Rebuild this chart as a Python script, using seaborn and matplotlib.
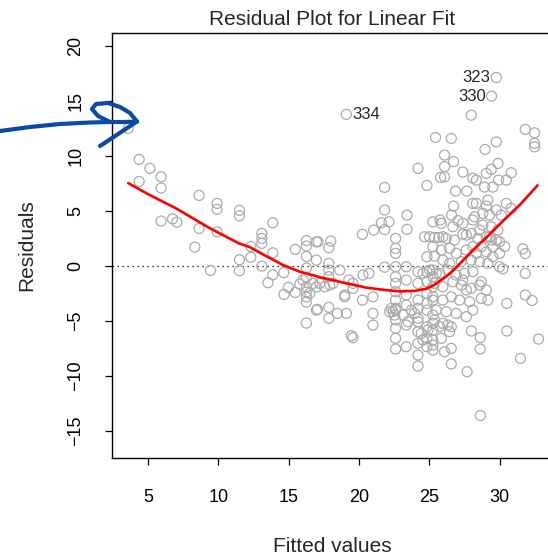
import seaborn as sns
import numpy as np
import pandas as pd
import matplotlib.pyplot as plt

# fitted values / residuals
# left, sparse part
fitted_a = [3.60, 4.38, 5.14, 4.38, 5.94, 5.94, 8.64, 9.92, 9.92, 11.51, 11.51, 5.94, 6.75, 7.06, 8.64,
            9.92, 8.34, 9.45, 11.51, 11.51, 12.32, 12.32, 13.10, 13.10, 13.10, 13.88, 13.88, 13.10, 13.88,
            13.54, 14.66, 14.68, 14.99, 15.48, 15.48]
resid_a = [12.47, 9.65, 8.84, 7.65, 8.07, 7.05, 6.38, 5.65, 5.11, 5.02, 4.53, 4.05, 4.25, 3.95, 3.38,
           3.07, 1.68, -0.44, 0.53, -0.47, 0.75, 1.73, 2.93, 2.47, 2.02, 3.89, 1.16, -0.05, -0.84,
           -1.56, -0.65, -2.62, -1.98, 1.47, -2.45]

# fitted 15 - 20
fitted_b = [16.27, 16.27, 16.27, 16.27, 16.27, 16.27, 16.27, 16.27, 16.27, 16.27,
            15.80, 16.03, 16.51, 16.98, 16.98, 16.98, 16.98, 16.74, 17.22, 17.57, 17.93, 18.16, 18.00,
            17.86, 17.86, 17.86, 17.86, 18.64, 19.28, 18.99, 17.05, 17.86, 17.86, 18.47, 19.11, 19.47, 19.58]
resid_b = [2.27, 1.77, 0.82, -0.23, -1.05, -1.95, -2.41, -2.86, -3.32, -5.23,
           -1.68, -1.32, -2.53, 2.16, 0.50, -1.95, -4.05, -1.62, -1.62, -1.93, -1.77, -1.62, 2.23,
           1.62, 0.20, -0.41, -1.02, -0.41, -1.32, -2.68, -3.98, -3.80, -4.80, -4.35, -4.35, -6.38, -6.56]

# low outliers and right edge
fitted_c = [22.61, 22.61, 23.37, 24.20, 24.20, 26.57, 27.69, 28.63, 31.49, 32.77, 30.52, 28.00, 28.63,
            28.63, 30.52, 31.83, 32.31, 31.83, 30.23, 31.66, 31.83, 30.36]
resid_c = [-6.62, -7.59, -7.38, -8.14, -9.14, -8.95, -9.65, -13.64, -8.44, -6.68, -5.95, -5.95, -6.55,
           -7.59, -3.44, -2.68, -3.18, -0.71, -0.30, 1.52, 1.09, 1.73]

# upper right
fitted_d = [27.99, 25.45, 26.57, 29.77, 28.97, 31.83, 32.49, 32.49, 32.49, 26.09, 26.73, 26.09, 25.81,
            26.09, 24.20, 27.39, 24.84, 21.83, 26.87, 27.68, 28.10, 28.35, 29.06, 29.41, 29.89, 30.83,
            30.48, 29.93, 29.52, 28.93, 26.73, 26.59, 27.04, 25.77, 28.10, 29.06, 29.17, 28.35, 29.77,
            30.12, 30.48, 30.83, 28.22, 28.10, 28.81, 29.29, 21.83, 23.42, 21.60, 22.14, 21.83, 21.05,
            20.25, 23.42, 22.61, 22.61, 22.61, 24.67, 25.03, 25.38, 25.69, 24.84, 25.38, 26.21, 26.80,
            27.39, 27.99, 28.58, 29.06, 29.41, 30.00, 28.10, 28.70, 29.52, 17.10]
resid_d = [13.68, 11.65, 11.56, 11.25, 10.56, 12.38, 12.07, 11.11, 10.80, 10.05, 9.45, 9.00, 8.02,
           8.07, 8.84, 8.50, 7.29, 7.11, 6.77, 6.77, 7.95, 7.77, 8.38, 8.75, 9.29, 8.44,
           7.77, 7.77, 7.14, 7.14, 5.41, 4.59, 4.09, 4.14, 5.65, 5.41, 5.95, 5.65, 5.05,
           4.59, 5.65, 5.20, 4.44, 4.14, 4.75, 4.59, 5.05, 4.59, 3.89, 3.98, 3.27, 3.23,
           2.84, 3.29, 2.47, 1.56, 1.11, 2.62, 2.62, 2.56, 2.56, 0.80, 0.86, 2.47, 2.32,
           2.86, 2.93, 3.23, 2.62, 2.32, 2.16, 1.71, 1.71, 1.71, 2.16]

# middle cluster, fitted 19 - 25.5
fitted_e = [19.58, 19.58, 18.99, 20.29, 20.72, 20.25, 21.00, 21.00, 21.00, 21.83,
            22.61, 22.61, 22.61, 22.61, 22.61, 22.61, 22.61, 22.61, 22.61, 22.42, 22.54,
            23.37, 23.37, 23.37, 23.37, 23.37,
            24.20, 24.20, 24.20, 24.20, 24.20, 24.20, 24.20, 24.20,
            24.84, 24.84, 24.84, 24.84, 24.84, 24.84, 24.84, 24.84,
            25.26, 25.26, 25.26, 25.26, 25.26, 25.26, 25.26,
            24.55, 25.03, 25.50, 23.73, 23.96, 24.44, 24.55, 24.91, 22.19, 22.31, 23.13, 23.49]
resid_e = [-1.62, -2.07, -2.84, -0.86, -0.71, -3.14, -2.84, -4.35, -5.41, -0.15,
           -0.11, -1.02, -1.62, -2.38, -3.14, -3.89, -4.05, -4.95, -5.71, -4.20, -4.50,
           -0.11, -1.32, -2.68, -3.59, -5.41,
           -0.56, -1.62, -3.14, -3.89, -4.80, -5.11, -6.02, -7.07,
           -0.56, -1.47, -2.53, -3.44, -4.05, -5.56, -6.62, -7.38,
           -1.02, -1.93, -3.14, -4.50, -5.86, -6.77, -7.68,
           -0.71, -0.41, -0.71, -4.05, -4.35, -6.16, -6.77, -5.86, -4.20, -3.89, -4.50, -5.11]

# dense cluster, fitted 25 - 30
fitted_f = [25.26, 25.86, 26.68, 27.39, 28.81, 29.41, 29.88,
            25.97, 27.64, 28.46, 29.29, 29.77,
            25.26, 25.86, 26.45, 26.92, 27.64, 28.35, 29.06, 29.52, 30.00,
            25.97, 26.45, 27.28, 27.99, 28.58, 29.17, 30.00,
            25.26, 25.74, 26.33, 26.92, 27.51, 28.10,
            25.38, 25.97, 26.68, 27.28, 27.99, 28.58,
            25.26, 25.97, 26.57, 27.16, 27.87, 28.70, 29.17,
            25.50, 26.21, 26.92, 27.64, 28.10,
            25.38, 25.97, 26.57,
            25.26, 25.74, 26.33, 26.45, 25.86, 25.26, 26.09, 26.57,
            28.70, 29.06, 27.39, 27.64]
resid_f = [3.98, 3.84, 3.53, 3.84, 3.68, 3.53, 3.23,
           2.62, 2.77, 2.47, 2.62, 2.32,
           1.71, 1.41, 1.56, 1.11, 1.41, 1.11, 1.25, 0.80, 1.11,
           0.50, 0.20, 0.35, 0.50, 0.35, 0.20, -0.11,
           -0.41, -0.71, -0.41, -0.86, -0.71, -0.56,
           -1.62, -1.93, -1.47, -1.77, -2.07, -1.77,
           -2.84, -3.14, -2.84, -3.14, -3.29, -2.99, -3.14,
           -4.05, -4.20, -4.35, -4.65, -4.05,
           -4.95, -5.25, -5.56,
           -5.25, -5.56, -5.41, -6.02, -6.62, -7.23, -7.84, -7.53,
           -1.47, -2.23, -1.32, -2.23]

# labelled observations
label_ids = ["334", "323", "330"]
label_fitted = [19.11, 29.77, 29.43]
label_resid = [13.75, 17.10, 15.41]

# red smoother
smooth_x = [3.6, 5.0, 7.0, 9.4, 11.5, 12.2, 13.5, 14.6, 15.8, 17.2, 18.2, 19.5, 20.5, 21.7, 22.9,
            24.0, 24.8, 25.3, 25.7, 26.2, 26.6, 27.05, 28.1, 29.1, 30.2, 31.5, 32.7]
smooth_y = [7.5, 6.5, 5.2, 3.4, 2.0, 1.7, 0.8, 0.05, -0.56, -1.05, -1.35, -1.72, -2.0, -2.2, -2.35,
            -2.3, -2.1, -1.8, -1.45, -1.0, -0.55, 0.0, 1.4, 2.6, 4.0, 5.6, 7.3]

fitted = fitted_a + fitted_b + fitted_c + fitted_d + fitted_e + fitted_f + label_fitted
resid = resid_a + resid_b + resid_c + resid_d + resid_e + resid_f + label_resid
data = pd.DataFrame({'fitted': fitted, 'resid': resid})
smooth = pd.DataFrame({'x': smooth_x, 'y': smooth_y})

sns.set_style('ticks')
plt.rcParams['font.family'] = ['Liberation Sans', 'DejaVu Sans']

fig = plt.figure(figsize=(5.48, 5.58), dpi=100)
ax = fig.add_axes([112 / 548, 100 / 558, 441 / 548, 425 / 558])

sns.scatterplot(data=data, x='fitted', y='resid', ax=ax, marker='o', s=52,
                facecolor='none', edgecolor='#ababab', linewidth=0.9, zorder=2)
ax.axhline(0, color='black', ls=(0, (1, 3)), lw=0.9, zorder=1)
sns.lineplot(data=smooth, x='x', y='y', ax=ax, color='red', lw=1.9, zorder=3)

ax.text(label_fitted[0] + 0.42, label_resid[0], label_ids[0], ha='left', va='center', fontsize=12)
for i in (1, 2):
    ax.text(label_fitted[i] - 0.42, label_resid[i], label_ids[i], ha='right', va='center', fontsize=12)

ax.set_xlim(2.45, 33.8)
ax.set_ylim(-17.5, 21.15)
ax.set_xticks([5, 10, 15, 20, 25, 30])
ax.set_yticks([-15, -10, -5, 0, 5, 10, 15, 20])
ax.tick_params(direction='out', length=5, width=0.9, labelsize=13, colors='black')
ax.tick_params(axis='x', pad=17)
ax.tick_params(axis='y', pad=15)
for lab in ax.get_yticklabels():
    lab.set_rotation(90)
    lab.set_rotation_mode('default')
    lab.set_ha('right')
    lab.set_va('center')
for sp in ax.spines.values():
    sp.set_visible(True)
    sp.set_color('black')
    sp.set_linewidth(1.0)

ax.set_title('Residual Plot for Linear Fit', fontsize=15, pad=6)
ax.set_xlabel('Fitted values', fontsize=15, labelpad=23)
ax.set_ylabel('Residuals', fontsize=15, labelpad=22)

# hand-drawn blue arrow on top of the chart
over = fig.add_axes([0, 0, 1, 1])
over.set_xlim(0, 548)
over.set_ylim(558, 0)
over.axis('off')
stroke_x = [0, 30, 60, 90, 110, 125, 137]
stroke_y = [131, 127, 124, 122.5, 122, 122, 121.5]
loop_x = [110, 98, 92, 96, 108, 120, 130, 137]
loop_y = [122, 116, 109, 104, 103, 107, 113, 121.5]
barb_x = [137, 100]
barb_y = [121.5, 146]
for px, py in [(stroke_x, stroke_y), (loop_x, loop_y), (barb_x, barb_y)]:
    over.plot(px, py, color='#0a4aa6', lw=3, solid_capstyle='round', solid_joinstyle='round')

plt.savefig('out.png', dpi=100)
